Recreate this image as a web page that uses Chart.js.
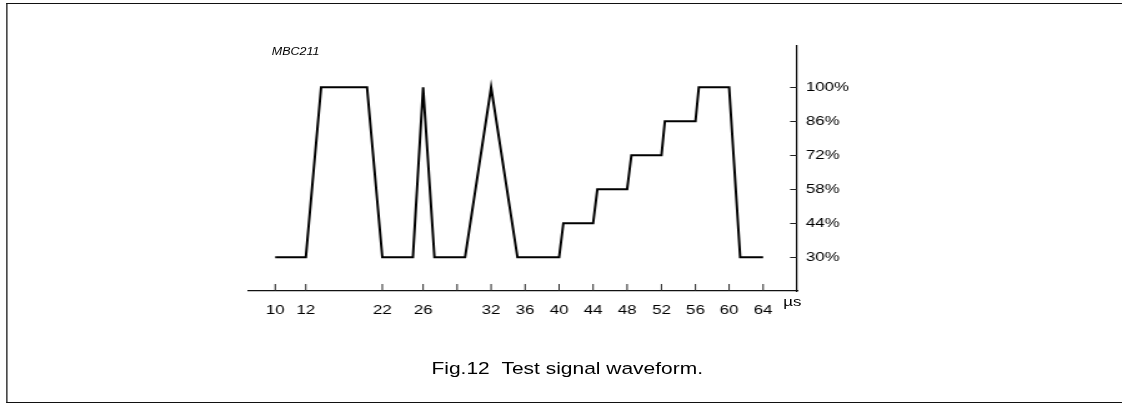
<!DOCTYPE html>
<html>
<head>
<meta charset="utf-8">
<title>Fig.12 Test signal waveform</title>
<script src="https://cdn.jsdelivr.net/npm/chart.js@4.4.1/dist/chart.umd.min.js"></script>
<style>
  html, body { margin: 0; padding: 0; background: #fff; overflow: hidden; }
  /* the source figure is stretched sideways, so the whole stage is too */
  #stage { position: relative; width: 898px; height: 403px; transform: scaleX(1.2494); transform-origin: 0 0; }
  #chart { position: absolute; left: 0; top: 0; }
  #frame { position: absolute; left: 5px; top: 2.5px; width: 893px; height: 400px; box-sizing: border-box;
           border: 1.3px solid #111; border-right: none; pointer-events: none; }
  .txt { position: absolute; font-family: "Liberation Sans", Arial, sans-serif; color: #000; white-space: nowrap; }
  #code { left: 217.5px; top: 46px; font-size: 10px; line-height: 12px; font-style: italic; }
  #unit { left: 627px; top: 295px; font-size: 13.5px; line-height: 14px; }
  #caption { left: 254px; width: 400px; top: 359px; font-size: 16.8px; line-height: 20px; text-align: center; }
</style>
</head>
<body>
<div id="stage">
  <canvas id="chart"></canvas>
  <div id="frame"></div>
  <div class="txt" id="code">MBC211</div>
  <div class="txt" id="unit">µs</div>
  <div class="txt" id="caption">Fig.12&nbsp;&nbsp;Test signal waveform.</div>
</div>
<script>
// waveform corners (time in µs, level in %)
const timeUs = [10, 12, 14, 20, 22, 25, 26, 27, 29.7, 32, 35.1, 40, 40.5, 44, 44.5, 48, 48.5, 52, 52.4, 56, 56.4, 60, 61.3, 64];
const levelPct = [30, 30, 100, 100, 30, 30, 100, 30, 30, 100, 30, 30, 44, 44, 58, 58, 72, 72, 86, 86, 100, 100, 30, 30];

const xTicks = [10, 12, 22, 26, 29, 32, 36, 40, 44, 48, 52, 56, 60, 64];
const xTickLabels = ['10', '12', '22', '26', '', '32', '36', '40', '44', '48', '52', '56', '60', '64'];
const yTicks = [30, 44, 58, 72, 86, 100];

// the time axis is not to scale: each stretch between ticks gets its own width
const xBreakValues = [8.2, 10, 12, 22, 26, 29, 32, 36, 40, 44, 48, 52, 56, 60, 64, 68];
const xBreakSlots = [0, 0.8, 1.7, 3.95, 5.15, 6.15, 7.15, 8.15, 9.15, 10.15, 11.15, 12.16, 13.16, 14.15, 15.15, 16.15];

const FONT = '"Liberation Sans", Arial, sans-serif';

function interp(v, from, to) {
    let i = 1;
    while (i < from.length - 1 && v > from[i]) i++;
    const t = (v - from[i - 1]) / (from[i] - from[i - 1]);
    return to[i - 1] + t * (to[i] - to[i - 1]);
}

class BrokenTimeScale extends Chart.LinearScale {
    buildTicks() {
        return xTicks.map(v => ({ value: v }));
    }
    getPixelForValue(v) {
        const slot = interp(v, xBreakValues, xBreakSlots);
        return this.getPixelForDecimal(slot / xBreakSlots[xBreakSlots.length - 1]);
    }
    getValueForPixel(p) {
        const slot = this.getDecimalForPixel(p) * xBreakSlots[xBreakSlots.length - 1];
        return interp(slot, xBreakSlots, xBreakValues);
    }
}
BrokenTimeScale.id = 'brokenTime';
BrokenTimeScale.defaults = Chart.LinearScale.defaults;
Chart.register(BrokenTimeScale);

// short tick marks pointing into the plot
const inwardTicks = {
    id: 'inwardTicks',
    afterDraw(chart) {
        const { ctx, scales: { x, y } } = chart;
        ctx.save();
        ctx.strokeStyle = '#222';
        ctx.lineWidth = 1;
        ctx.beginPath();
        x.ticks.forEach(t => {
            const px = x.getPixelForValue(t.value);
            ctx.moveTo(px, x.top);
            ctx.lineTo(px, x.top - 7);
        });
        y.ticks.forEach(t => {
            const py = Math.round(y.getPixelForValue(t.value)) + 0.5;
            ctx.moveTo(y.left - 5.6, py);
            ctx.lineTo(y.left, py);
        });
        ctx.stroke();
        ctx.restore();
    }
};

const points = timeUs.map((t, i) => ({ x: t, y: levelPct[i] }));

new Chart(document.getElementById('chart'), {
    type: 'line',
    data: {
        datasets: [{
            data: points,
            borderColor: '#000',
            borderWidth: 2,
            borderJoinStyle: 'miter',
            tension: 0,
            pointRadius: 0,
            fill: false
        }]
    },
    options: {
        responsive: true,
        maintainAspectRatio: false,
        animation: false,
        layout: { padding: { left: 198.5, right: 200, top: 46, bottom: 82 } },
        plugins: { legend: { display: false }, tooltip: { enabled: false } },
        scales: {
            x: {
                type: 'brokenTime',
                min: 8.2,
                max: 68,
                afterFit: s => { s.height = 30; },
                grid: { display: false, drawTicks: false, tickLength: 0 },
                border: { display: true, color: '#111', width: 1.2 },
                ticks: {
                    autoSkip: false,
                    maxRotation: 0,
                    padding: 11.5,
                    color: '#000',
                    font: { family: FONT, size: 13.5 },
                    callback: (v, i) => xTickLabels[i]
                }
            },
            y: {
                position: 'right',
                min: 16.1,
                max: 117,
                afterBuildTicks: s => { s.ticks = yTicks.map(v => ({ value: v })); },
                afterFit: s => { s.width = 60; },
                grid: { display: false, drawTicks: false, tickLength: 0 },
                border: { display: true, color: '#111', width: 1.2 },
                ticks: {
                    autoSkip: false,
                    padding: 7,
                    color: '#000',
                    font: { family: FONT, size: 13.5 },
                    callback: v => v + '%'
                }
            }
        }
    },
    plugins: [inwardTicks]
});
</script>
</body>
</html>
